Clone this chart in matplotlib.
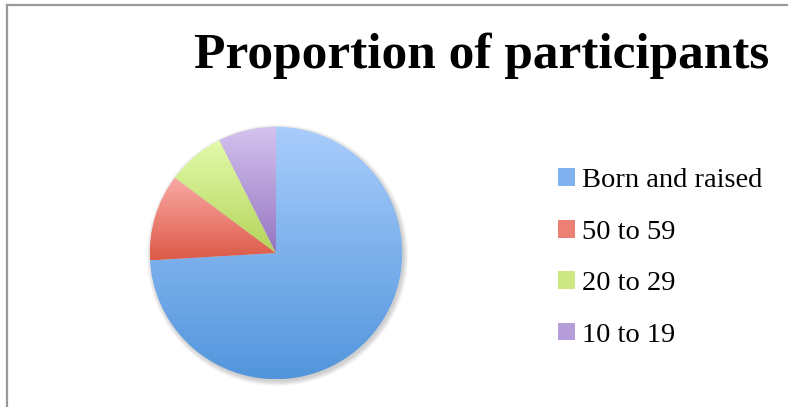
import numpy as np
from matplotlib import pyplot as plt
from matplotlib.colors import to_rgb
from matplotlib.lines import Line2D
from matplotlib.patches import Circle, Patch


labels = ['Born and raised', '50 to 59', '20 to 29', '10 to 19']
counts = [20, 3, 2, 2]
tops = ['#a9cdfc', '#faaaa5', '#e3faab', '#d5c3ef']
bottoms = ['#5295dc', '#dc5947', '#b4d45a', '#9675c1']
mids = ['#7fb2ee', '#ec8074', '#cde784', '#b59dd9']


def gradient(top, bottom, n=256):
	t = np.linspace(0, 1, n)[:, None]
	a = np.array(to_rgb(top))
	b = np.array(to_rgb(bottom))
	return (a*(1-t) + b*t)[:, None, :]


fig = plt.figure(figsize=(7.88, 4.07), dpi=100)
ax = fig.add_axes([146/788, 24/407, 260/788, 260/407])
ax.axis('off')

# soft shadow
for k in range(7):
	ax.add_patch(Circle((0.012, -0.018), 1 + 0.006*k, color='k', alpha=0.028, lw=0, zorder=0, clip_on=False))

wedges, _ = ax.pie(counts, startangle=90, counterclock=False, radius=1, wedgeprops=dict(lw=0))
for w, top, bottom in zip(wedges, tops, bottoms):
	w.set_facecolor('none')
	w.set_zorder(1)
	ext = w.get_path().get_extents()
	im = ax.imshow(gradient(top, bottom), extent=[ext.x0, ext.x1, ext.y0, ext.y1],
		origin='upper', aspect='auto', zorder=1, interpolation='bilinear')
	im.set_clip_path(w)
ax.set_aspect('equal')
ax.set_xlim(-1.03, 1.03)
ax.set_ylim(-1.03, 1.03)

fig.text(481.5/788, 1 - 68/407, 'Proportion of participants', ha='center', va='baseline',
	fontsize=37, fontweight='bold', family='Liberation Serif')

handles = [Patch(facecolor=c, edgecolor='none') for c in mids]
fig.legend(handles, labels, loc='upper left', bbox_to_anchor=(544/788, 1 - 154/407),
	frameon=False, prop={'family': 'Liberation Serif', 'size': 20.5},
	handlelength=0.58, handleheight=0.58, handletextpad=0.25, labelspacing=0.93, borderpad=0)

fig.add_artist(Line2D([7/788, 1], [1 - 5/407, 1 - 5/407], color='#999999', lw=1.6))
fig.add_artist(Line2D([7/788, 7/788], [0, 1 - 5/407], color='#999999', lw=1.6))

fig.savefig('out.png', dpi=100)
